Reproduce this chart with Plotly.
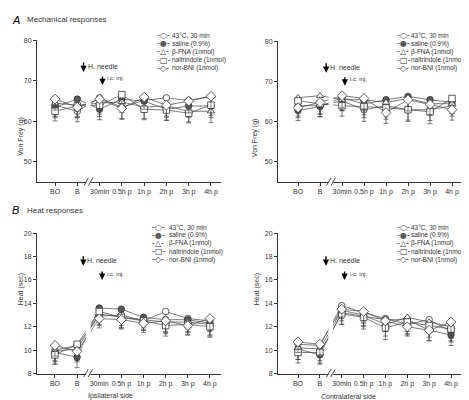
import plotly.graph_objects as go

W, H = 469, 400
FONT = "Liberation Sans, Arial, sans-serif"
INK = "#333333"

categories = ["BO", "B", "30min", "0.5h p", "1h p", "2h p", "3h p", "4h p"]
series_names = ["43°C, 30 min", "saline (0.9%)", "β-FNA (1nmol)", "naltrindole (1nmol)", "nor-BNI (1nmol)"]
symbols = ["circle", "circle", "triangle-up", "square", "diamond"]
fills = ["white", "#5a5a5a", "white", "white", "white"]
legend_glyphs = ["○", "●", "△", "□", "◇"]

# ---- Mechanical, ipsilateral (Von Frey, g)
mech_ipsi_43 = [64.0, 62.5, 65.8, 63.5, 65.2, 65.8, 65.2, 66.2]
mech_ipsi_saline = [63.5, 65.5, 63.0, 65.5, 65.0, 63.0, 63.8, 63.8]
mech_ipsi_bfna = [64.5, 64.0, 64.5, 64.8, 63.5, 63.8, 62.5, 62.5]
mech_ipsi_nalt = [62.5, 63.8, 64.0, 66.6, 63.0, 62.8, 62.0, 64.0]
mech_ipsi_nbni = [65.5, 63.5, 65.5, 63.2, 66.0, 64.0, 65.0, 66.2]
mech_ipsi_err = [
    [2.8, 2.6, 2.4, 2.8, 2.9, 2.6, 2.7, 2.9],
    [2.6, 3.0, 2.6, 2.9, 2.7, 2.8, 2.8, 2.9],
    [2.9, 2.8, 2.7, 2.6, 2.8, 2.8, 2.6, 2.8],
    [2.4, 2.9, 2.8, 3.2, 2.6, 2.5, 2.4, 2.5],
    [2.7, 2.6, 2.5, 2.7, 3.0, 2.7, 2.9, 3.1],
]

# ---- Mechanical, contralateral (Von Frey, g)
mech_contra_43 = [64.0, 64.0, 65.2, 63.0, 64.0, 63.0, 63.0, 64.0]
mech_contra_saline = [62.8, 63.8, 66.0, 64.4, 65.5, 66.3, 65.5, 64.8]
mech_contra_bfna = [66.0, 66.5, 65.5, 65.5, 64.8, 65.8, 64.5, 64.5]
mech_contra_nalt = [65.2, 64.5, 64.0, 63.8, 63.5, 63.0, 62.5, 65.8]
mech_contra_nbni = [63.5, 64.8, 66.5, 65.8, 62.3, 65.5, 64.3, 63.0]
mech_contra_err = [
    [2.6, 2.7, 2.5, 2.9, 2.8, 2.9, 2.7, 2.6],
    [2.5, 2.6, 2.8, 2.7, 2.8, 2.9, 2.8, 2.7],
    [2.8, 2.9, 2.7, 2.8, 2.6, 2.7, 2.8, 2.5],
    [2.7, 2.6, 2.6, 2.8, 2.9, 2.6, 3.0, 2.8],
    [2.5, 2.8, 2.9, 2.6, 2.7, 2.8, 2.6, 2.6],
]

# ---- Heat, ipsilateral (sec)
heat_ipsi_43 = [10.0, 10.4, 12.9, 13.0, 12.5, 13.3, 12.7, 12.5]
heat_ipsi_saline = [9.8, 9.4, 13.6, 13.5, 12.8, 12.6, 12.6, 12.3]
heat_ipsi_bfna = [9.9, 10.1, 13.1, 12.8, 12.6, 12.4, 12.4, 12.2]
heat_ipsi_nalt = [9.6, 10.5, 13.3, 12.8, 12.5, 12.1, 12.2, 12.0]
heat_ipsi_nbni = [10.4, 9.9, 12.7, 12.6, 12.3, 12.5, 12.1, 12.7]
heat_ipsi_err = [
    [0.9, 1.0, 0.8, 0.9, 0.8, 1.0, 0.9, 0.9],
    [1.0, 0.9, 1.0, 1.0, 0.9, 1.1, 1.0, 1.0],
    [0.9, 1.0, 0.9, 0.9, 0.9, 1.0, 0.9, 1.0],
    [0.8, 1.0, 0.9, 0.9, 0.8, 0.9, 0.9, 0.9],
    [0.9, 0.9, 0.8, 0.8, 0.8, 0.9, 0.8, 1.0],
]

# ---- Heat, contralateral (sec)
heat_contra_43 = [10.5, 10.4, 13.8, 13.2, 12.7, 12.2, 12.6, 11.6]
heat_contra_saline = [10.1, 9.6, 13.2, 12.9, 12.6, 12.6, 11.7, 11.3]
heat_contra_bfna = [10.2, 10.1, 13.4, 13.0, 12.2, 12.8, 12.4, 12.0]
heat_contra_nalt = [9.8, 9.8, 13.1, 12.8, 11.9, 12.4, 12.1, 11.8]
heat_contra_nbni = [10.7, 10.5, 13.5, 13.3, 12.5, 12.0, 11.7, 12.4]
heat_contra_err = [
    [0.9, 0.9, 0.9, 0.9, 0.9, 0.9, 0.8, 0.9],
    [0.9, 0.8, 1.0, 0.9, 1.0, 1.0, 0.9, 0.9],
    [1.0, 1.0, 0.9, 0.9, 1.0, 0.9, 0.9, 1.0],
    [0.9, 0.9, 0.9, 1.0, 1.0, 1.0, 1.0, 1.0],
    [0.9, 0.9, 0.8, 0.9, 0.9, 0.8, 0.9, 0.9],
]

mech_ticks = [50, 60, 70, 80]
heat_ticks = [8, 10, 12, 14, 16, 18, 20]


def px(x):
    return x / W


def py(y):
    return 1 - y / H


panels = [
    dict(series=[mech_ipsi_43, mech_ipsi_saline, mech_ipsi_bfna, mech_ipsi_nalt, mech_ipsi_nbni],
         err=mech_ipsi_err, xpx=(29, 213), ypx=(29, 173), xr=[-0.81, 7.45], yr=[45, 80],
         yt=mech_ticks, ytitle="Von Frey (g)", ytitle_x=7,
         hn=(75.0, 72.2), ic=(71.6, 69.0),
         leg=(155, 163, 24)),
    dict(series=[mech_contra_43, mech_contra_saline, mech_contra_bfna, mech_contra_nalt, mech_contra_nbni],
         err=mech_contra_err, xpx=(270, 468), ypx=(30, 173), xr=[-0.91, 8.09], yr=[45, 80],
         yt=mech_ticks, ytitle="Von Frey (g)", ytitle_x=247,
         hn=(75.0, 72.2), ic=(71.6, 69.0),
         leg=(395, 402, 24)),
    dict(series=[heat_ipsi_43, heat_ipsi_saline, heat_ipsi_bfna, heat_ipsi_nalt, heat_ipsi_nbni],
         err=heat_ipsi_err, xpx=(29, 213), ypx=(225, 368), xr=[-0.81, 7.5], yr=[8, 20],
         yt=heat_ticks, ytitle="Heat (sec)", ytitle_x=7,
         hn=(18.1, 17.2), ic=(16.8, 16.0),
         leg=(150, 160, 219)),
    dict(series=[heat_contra_43, heat_contra_saline, heat_contra_bfna, heat_contra_nalt, heat_contra_nbni],
         err=heat_contra_err, xpx=(270, 463), ypx=(225, 368), xr=[-0.915, 7.915], yr=[8, 20],
         yt=heat_ticks, ytitle="Heat (sec)", ytitle_x=249,
         hn=(18.1, 17.2), ic=(16.8, 16.0),
         leg=(395, 402, 219)),
]

xpos = list(range(len(categories)))
fig = go.Figure()
annotations = []
shapes = []
layout_axes = {}

for i, p in enumerate(panels):
    n = i + 1
    xa = "x" if n == 1 else f"x{n}"
    ya = "y" if n == 1 else f"y{n}"
    xkey = "xaxis" if n == 1 else f"xaxis{n}"
    ykey = "yaxis" if n == 1 else f"yaxis{n}"
    layout_axes[xkey] = dict(
        domain=[px(p["xpx"][0]), px(p["xpx"][1])], range=p["xr"], anchor=ya,
        tickvals=xpos, ticktext=categories, showline=True, linecolor=INK, linewidth=1,
        ticks="outside", ticklen=3, tickcolor=INK, tickwidth=0.8, showgrid=False, zeroline=False,
        tickfont=dict(size=7, color=INK, family=FONT),
    )
    layout_axes[ykey] = dict(
        domain=[py(p["ypx"][1]), py(p["ypx"][0])], range=p["yr"], anchor=xa,
        tickvals=p["yt"], showline=True, linecolor=INK, linewidth=1,
        ticks="outside", ticklen=3, tickcolor=INK, tickwidth=0.8, showgrid=False, zeroline=False,
        tickfont=dict(size=7, color=INK, family=FONT),
    )
    for s, vals in enumerate(p["series"]):
        fig.add_trace(go.Scatter(
            x=xpos, y=vals, xaxis=xa, yaxis=ya, mode="lines+markers", name=series_names[s],
            showlegend=False,
            line=dict(color="#444444", width=0.7),
            marker=dict(symbol=symbols[s], size=7.5 if symbols[s] == "diamond" else 6.5,
                        color=fills[s], line=dict(color=INK, width=0.8)),
            error_y=dict(type="data", symmetric=False, array=[0] * len(vals),
                         arrayminus=p["err"][s], color="#444444", thickness=0.7, width=2.5),
        ))
    # axis break: white gap + slashes
    shapes.append(dict(type="rect", xref=xa, yref=f"{ya} domain", x0=1.39, x1=1.61, y0=-0.03, y1=1.0,
                       fillcolor="white", line=dict(width=0), layer="above"))
    for sx in (1.3, 1.5):
        shapes.append(dict(type="line", xref=xa, yref=f"{ya} domain", x0=sx, x1=sx + 0.2,
                           y0=-0.025, y1=0.03, line=dict(color=INK, width=0.9), layer="above"))
    # event arrows
    annotations.append(dict(x=1.28, y=p["hn"][1], xref=xa, yref=ya, text="", showarrow=True,
                            ax=0, ay=-11, arrowhead=2, arrowsize=0.9, arrowwidth=1.4, arrowcolor="black"))
    annotations.append(dict(x=1.28, y=(p["hn"][0] + p["hn"][1]) / 2, xref=xa, yref=ya, text="H. needle",
                            showarrow=False, xanchor="left", xshift=2, font=dict(size=7, color=INK, family=FONT)))
    annotations.append(dict(x=2.13, y=p["ic"][1], xref=xa, yref=ya, text="", showarrow=True,
                            ax=0, ay=-10, arrowhead=2, arrowsize=0.9, arrowwidth=1.4, arrowcolor="black"))
    annotations.append(dict(x=2.13, y=(p["ic"][0] + p["ic"][1]) / 2 + (p["yr"][1] - p["yr"][0]) * 0.01,
                            xref=xa, yref=ya, text="i.c. inj.",
                            showarrow=False, xanchor="left", xshift=3, font=dict(size=6, color=INK, family=FONT)))
    # y title
    annotations.append(dict(x=px(p["ytitle_x"]), y=py((p["ypx"][0] + p["ypx"][1]) / 2 + 4), xref="paper",
                            yref="paper", text=p["ytitle"], textangle=-90, showarrow=False,
                            font=dict(size=7, color=INK, family=FONT)))
    # custom legend
    symx, textx, y0 = p["leg"]
    for s, name in enumerate(series_names):
        yy = y0 + s * 8.3
        glyph = legend_glyphs[s]
        if s == 1:
            glyph = '<span style="color:#5a5a5a">●</span>'
        annotations.append(dict(x=px(symx), y=py(yy), xref="paper", yref="paper", text="-" + glyph + "-",
                                showarrow=False, xanchor="center", yanchor="middle", borderpad=0,
                                font=dict(size=8, color=INK, family="DejaVu Sans")))
        annotations.append(dict(x=px(textx), y=py(yy), xref="paper", yref="paper", text=name,
                                showarrow=False, xanchor="left", yanchor="middle", borderpad=0,
                                font=dict(size=6.5, color=INK, family=FONT)))

# panel titles and side labels
annotations += [
    dict(x=px(2), y=py(8), xref="paper", yref="paper", text="<i>A</i>", showarrow=False,
         xanchor="left", yanchor="middle", font=dict(size=11, color="black", family=FONT)),
    dict(x=px(17), y=py(8), xref="paper", yref="paper", text="Mechanical responses", showarrow=False,
         xanchor="left", yanchor="middle", font=dict(size=8, color=INK, family=FONT)),
    dict(x=px(2), y=py(202), xref="paper", yref="paper", text="<i>B</i>", showarrow=False,
         xanchor="left", yanchor="middle", font=dict(size=11, color="black", family=FONT)),
    dict(x=px(17), y=py(202), xref="paper", yref="paper", text="Heat responses", showarrow=False,
         xanchor="left", yanchor="middle", font=dict(size=8, color=INK, family=FONT)),
    dict(x=px(102), y=py(391), xref="paper", yref="paper", text="Ipsilateral side", showarrow=False,
         xanchor="center", yanchor="middle", borderpad=0, font=dict(size=7, color=INK, family=FONT)),
    dict(x=px(340), y=py(391), xref="paper", yref="paper", text="Contralateral side", showarrow=False,
         xanchor="center", yanchor="middle", borderpad=0, font=dict(size=7, color=INK, family=FONT)),
]

fig.update_layout(
    width=W, height=H, margin=dict(l=0, r=0, t=0, b=0),
    paper_bgcolor="white", plot_bgcolor="white", showlegend=False,
    font=dict(family=FONT, color=INK),
    annotations=annotations, shapes=shapes,
    **layout_axes,
)

fig.write_html("out.html")
